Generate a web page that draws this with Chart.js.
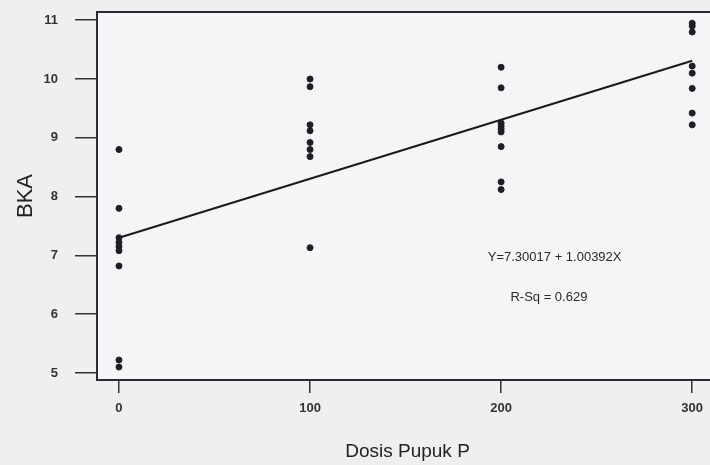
<!DOCTYPE html>
<html>
<head>
<meta charset="utf-8">
<script src="https://cdn.jsdelivr.net/npm/chart.js@4.4.1/dist/chart.umd.min.js"></script>
<style>
  body { margin: 0; background: #efeff1; overflow: hidden; }
  #wrap { width: 730px; height: 465px; }
</style>
</head>
<body>
<div id="wrap"><canvas id="myChart"></canvas></div>
<script>
// dosis pupuk P (x) dan BKA (y)
const dosis0 = [8.8, 7.8, 7.3, 7.22, 7.15, 7.08, 6.82, 5.22, 5.1];
const dosis100 = [10.0, 9.87, 9.22, 9.12, 8.92, 8.8, 8.68, 7.13];
const dosis200 = [10.2, 9.85, 9.25, 9.2, 9.15, 9.1, 8.85, 8.25, 8.12];
const dosis300 = [10.95, 10.9, 10.8, 10.22, 10.1, 9.84, 9.42, 9.22];
const dosisLevels = [0, 100, 200, 300];

const garisX = [0, 300];        // garis regresi
const garisY = [7.30, 10.31];

const xTicks = [0, 100, 200, 300];
const yTicks = [5, 6, 7, 8, 9, 10, 11];

const teksPersamaan = 'Y=7.30017 + 1.00392X';
const teksRsq = 'R-Sq = 0.629';

let points = [];
[dosis0, dosis100, dosis200, dosis300].forEach((arr, i) => {
  arr.forEach(v => points.push({ x: dosisLevels[i], y: v }));
});

const boxPlugin = {
  id: 'box',
  beforeDraw(chart) {
    const a = chart.chartArea, c = chart.ctx;
    c.save();
    c.fillStyle = '#f5f5f8';
    c.fillRect(a.left, a.top, a.right - a.left, a.bottom - a.top);
    c.restore();
  },
  afterDraw(chart) {
    const a = chart.chartArea, c = chart.ctx;
    const xs = chart.scales.x, ys = chart.scales.y;
    c.save();
    c.strokeStyle = '#2a2a33';
    c.lineWidth = 2;
    c.strokeRect(a.left, a.top, a.right - a.left, a.bottom - a.top);
    c.fillStyle = '#2a2a2a';
    c.font = '13px "Liberation Sans", Arial, sans-serif';
    c.textAlign = 'center';
    c.textBaseline = 'middle';
    c.fillText(teksPersamaan, xs.getPixelForValue(228), ys.getPixelForValue(6.96));
    c.fillText(teksRsq, xs.getPixelForValue(225), ys.getPixelForValue(6.29));
    c.restore();
  }
};

const ctx = document.getElementById('myChart');
new Chart(ctx, {
  type: 'scatter',
  data: {
    datasets: [{
      label: 'BKA',
      data: points,
      backgroundColor: '#1e1e24',
      borderColor: '#1e1e24',
      pointRadius: 3,
      pointHoverRadius: 3
    }, {
      type: 'line',
      label: 'regresi',
      data: garisX.map((x, i) => ({ x: x, y: garisY[i] })),
      borderColor: '#1a1a1a',
      borderWidth: 2,
      pointRadius: 0,
      fill: false
    }]
  },
  options: {
    responsive: true,
    maintainAspectRatio: false,
    animation: false,
    layout: { padding: { top: 12, right: 12, left: 0, bottom: 0 } },
    plugins: { legend: { display: false }, tooltip: { enabled: false } },
    scales: {
      x: {
        type: 'linear',
        min: -11.5,
        max: 313.5,
        afterFit: s => { s.height = 85; s.paddingLeft = 0; s.paddingRight = 0; },
        afterBuildTicks: s => { s.ticks = xTicks.map(v => ({ value: v })); },
        grid: { drawOnChartArea: false, tickLength: 13, color: '#333', lineWidth: 1.5 },
        border: { display: true, color: '#2a2a33', width: 2 },
        ticks: { padding: 8, color: '#333', font: { family: 'Liberation Sans', size: 13, weight: 'bold' } },
        title: {
          display: true, text: 'Dosis Pupuk P', color: '#222',
          font: { family: 'Liberation Sans', size: 19 },
          padding: { top: 0, bottom: 2 }
        }
      },
      y: {
        min: 4.88,
        max: 11.14,
        afterFit: s => { s.width = 97; s.paddingTop = 0; s.paddingBottom = 0; },
        afterBuildTicks: s => { s.ticks = yTicks.map(v => ({ value: v })); },
        grid: { drawOnChartArea: false, tickLength: 22, color: '#333', lineWidth: 1.5 },
        border: { display: true, color: '#2a2a33', width: 2 },
        ticks: { padding: 17, color: '#333', font: { family: 'Liberation Sans', size: 13, weight: 'bold' } },
        title: {
          display: true, text: 'BKA', color: '#222',
          font: { family: 'Liberation Sans', size: 22 },
          padding: { top: 13, bottom: 0 }
        }
      }
    }
  },
  plugins: [boxPlugin]
});
</script>
</body>
</html>
